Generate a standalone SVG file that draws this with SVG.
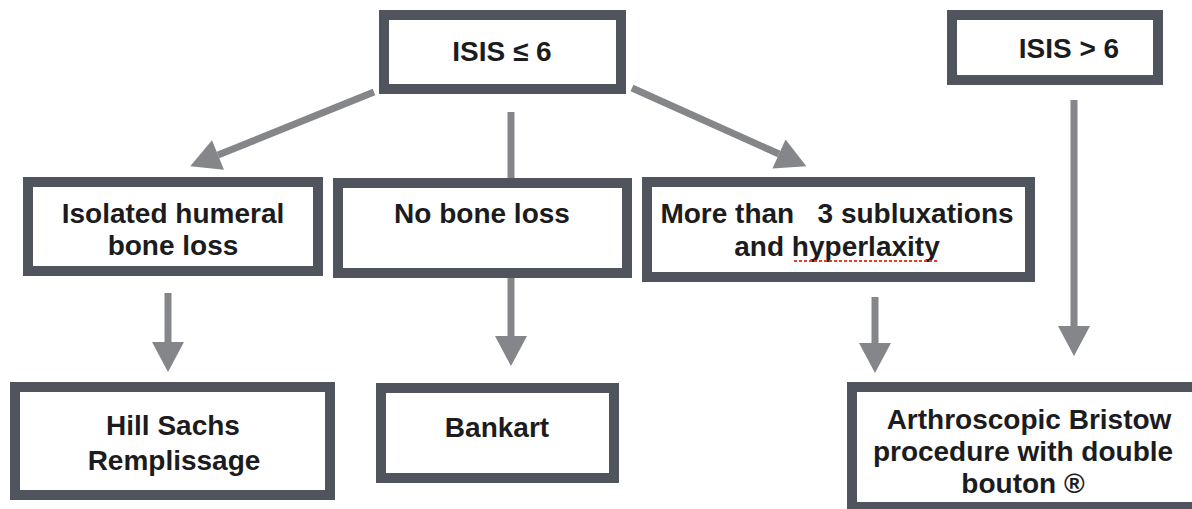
<svg xmlns="http://www.w3.org/2000/svg" width="1192" height="509" viewBox="0 0 1192 509">
<style>
.box{fill:#ffffff;stroke:#50545c;stroke-width:10}
.t{font-family:"Liberation Sans",Arial,Helvetica,sans-serif;font-weight:bold;font-size:28px;fill:#1c1c1e;text-anchor:middle;white-space:pre}
.c{stroke:#85868a;stroke-width:7;fill:none}
.ch{stroke:#85868a;stroke-width:7;fill:none;marker-end:url(#ah)}
</style>
<defs>
<marker id="ah" markerUnits="userSpaceOnUse" markerWidth="30" markerHeight="32" refX="0" refY="16" orient="auto" overflow="visible">
<path d="M0,0 L30,16 L0,32 z" fill="#85868a"/>
</marker>
</defs>
<rect width="1192" height="509" fill="#ffffff"/>
<g id="connectors">
<line class="ch" x1="374" y1="92" x2="218" y2="155"/>
<line class="c" x1="511" y1="112" x2="511" y2="178"/>
<line class="ch" x1="632" y1="88" x2="779" y2="154"/>
<line class="ch" x1="168" y1="293" x2="168" y2="342"/>
<line class="ch" x1="511" y1="278" x2="511" y2="336"/>
<line class="ch" x1="875" y1="297" x2="875" y2="343"/>
<line class="ch" x1="1074" y1="100" x2="1074" y2="326"/>
</g>
<g id="isis-le-6">
<rect class="box" x="384" y="15" width="237" height="74"/>
<text class="t" x="502" y="61">ISIS ≤ 6</text>
</g>
<g id="isis-gt-6">
<rect class="box" x="952" y="15" width="206" height="65"/>
<text class="t" x="1069" y="58">ISIS &gt; 6</text>
</g>
<g id="isolated">
<rect class="box" x="28" y="182" width="290" height="89"/>
<text class="t" x="173" y="223">Isolated humeral</text>
<text class="t" x="173" y="255">bone loss</text>
</g>
<g id="no-bone-loss">
<rect class="box" x="338" y="183" width="289" height="90"/>
<text class="t" x="482" y="223">No bone loss</text>
</g>
<g id="more-than">
<rect class="box" x="647" y="182" width="383" height="95"/>
<text class="t" x="837" y="223">More than   3 subluxations</text>
<text class="t" x="837" y="256">and hyperlaxity</text>
<line x1="794" y1="261" x2="938" y2="261" stroke="#e0402f" stroke-width="2" stroke-dasharray="3,2"/>
</g>
<g id="hill-sachs">
<rect class="box" x="15" y="387" width="315" height="108"/>
<text class="t" x="173" y="435">Hill Sachs</text>
<text class="t" x="174" y="470">Remplissage</text>
</g>
<g id="bankart">
<rect class="box" x="381" y="388" width="233" height="90"/>
<text class="t" x="497" y="437">Bankart</text>
</g>
<g id="bristow">
<rect class="box" x="852" y="387" width="345" height="120"/>
<text class="t" x="1029" y="429">Arthroscopic Bristow</text>
<text class="t" x="1023" y="461">procedure with double</text>
<text class="t" x="1023" y="493">bouton ®</text>
</g>
</svg>
